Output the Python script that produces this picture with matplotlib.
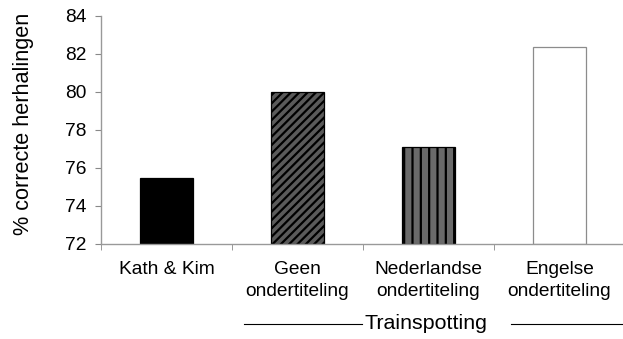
import matplotlib.pyplot as plt
from matplotlib.transforms import blended_transform_factory

plt.rcParams['font.family'] = ['Liberation Sans', 'DejaVu Sans']
plt.rcParams['hatch.linewidth'] = 1.6

categories = ["Kath & Kim", "Geen\nondertiteling", "Nederlandse\nondertiteling", "Engelse\nondertiteling"]
scores = [75.5, 80.0, 77.1, 82.35]
group_label = "Trainspotting"

fig = plt.figure(figsize=(6.23, 3.39), dpi=100)
ax = fig.add_axes([101 / 623, 1 - 244 / 339, 524 / 623, 228 / 339])

x = list(range(len(categories)))
faces = ['black', '#5a5a5a', '#6a6a6a', 'white']
edges = ['black', 'black', 'black', '#8c8c8c']
hatches = [None, '////', '||', None]
for xi, val, fc, ec, h in zip(x, scores, faces, edges, hatches):
    ax.bar(xi, val - 72, bottom=72, width=0.405, color=fc, hatch=h,
           edgecolor=ec, linewidth=0.9)

ax.set_xlim(-0.5, 3.5)
ax.set_ylim(72, 84)
ax.set_yticks(range(72, 85, 2))
ax.set_xticks(x)
ax.set_xticklabels(categories, fontsize=13.8, linespacing=1.42)
ax.set_xticks([-0.5, 0.5, 1.5, 2.5, 3.5], minor=True)
ax.tick_params(axis='x', which='major', length=0, pad=12)
ax.tick_params(axis='x', which='minor', length=4.3, color='#888888', direction='out')
ax.tick_params(axis='y', labelsize=13.8, length=4.3, color='#888888', pad=6)
ax.set_ylabel("% correcte herhalingen", fontsize=15.6)
ax.yaxis.set_label_coords(-0.128, 0.525)

for side in ['top', 'right']:
    ax.spines[side].set_visible(False)
for side in ['left', 'bottom']:
    ax.spines[side].set_color('#999999')
    ax.spines[side].set_linewidth(1.0)

# group bracket under the Trainspotting conditions
trans = blended_transform_factory(ax.transData, ax.transAxes)
yline = -0.35
ax.plot([0.59, 1.49], [yline, yline], color='black', lw=0.8, transform=trans, clip_on=False)
ax.plot([2.63, 3.49], [yline, yline], color='black', lw=0.8, transform=trans, clip_on=False)
ax.text(1.98, yline, group_label, transform=trans, ha='center', va='center', fontsize=15.4)

fig.savefig("out.png", dpi=100)
